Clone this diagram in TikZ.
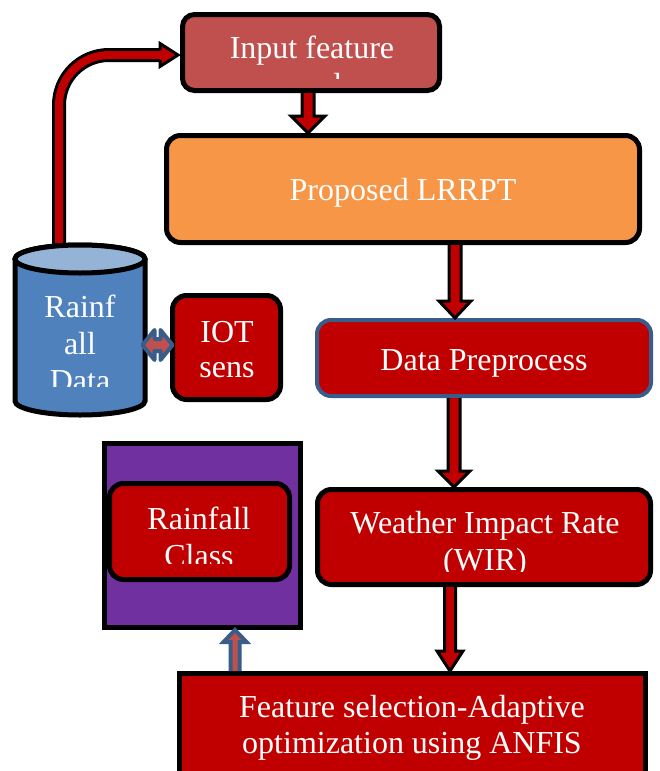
\documentclass[tikz,border=0pt]{standalone}
\usepackage{fontspec}
\setmainfont{Liberation Serif}
\usetikzlibrary{calc}

\definecolor{inred}{HTML}{C0504D}
\definecolor{orangebox}{HTML}{F79646}
\definecolor{darkred}{HTML}{C00000}
\definecolor{boxpurple}{HTML}{7030A0}
\definecolor{dbblue}{HTML}{4F81BD}
\definecolor{dbtop}{HTML}{95B3D7}
\definecolor{edgeblue}{HTML}{385D8A}

% multi-line label whose baseline is the first line
\newcommand\txtlines[1]{\begin{tabular}[t]{@{}c@{}}#1\end{tabular}}

% block arrows: start, tip, shaft half width, head half width, head length, style
\newcommand\blockdown[6]{%
  \draw[#6] let \p1=(#1), \p2=(#2) in
    (\x1-#3pt,\y1) -- (\x1-#3pt,\y2+#5pt) -- (\x1-#4pt,\y2+#5pt) -- (\x1,\y2)
    -- (\x1+#4pt,\y2+#5pt) -- (\x1+#3pt,\y2+#5pt) -- (\x1+#3pt,\y1);}
\newcommand\blockup[6]{%
  \draw[#6] let \p1=(#1), \p2=(#2) in
    (\x1-#3pt,\y1) -- (\x1-#3pt,\y2-#5pt) -- (\x1-#4pt,\y2-#5pt) -- (\x1,\y2)
    -- (\x1+#4pt,\y2-#5pt) -- (\x1+#3pt,\y2-#5pt) -- (\x1+#3pt,\y1);}

\begin{document}
\begin{tikzpicture}[x=1pt,y=-1pt,
  box/.style={draw=black, line width=5pt, rounded corners=14pt, inner sep=0pt},
  sqbox/.style={draw=black, line width=5pt, inner sep=0pt},
  txt/.style={text=white, inner sep=0pt, font=\fontsize{32}{37}\selectfont},
  blk/.style={fill=darkred, draw=black, line width=3pt, miter limit=10},
  blkblue/.style={fill=inred, draw=edgeblue, line width=4pt, miter limit=10}]

\fill[white] (0,0) rectangle (660,771);
\useasboundingbox (0,0) rectangle (660,771);

% boxes
\node[box, fill=inred, rounded corners=12pt, minimum width=257pt, minimum height=76pt] (in) at (311,52.5) {};
\node[box, fill=orangebox, minimum width=473pt, minimum height=107pt] (prop) at (403,189) {};
\node[box, draw=edgeblue, line width=4pt, fill=darkred, minimum width=334pt, minimum height=76pt] (dp) at (484,358) {};
\node[box, fill=darkred, minimum width=333pt, minimum height=95pt] (wir) at (484,537) {};
\node[sqbox, fill=darkred, minimum width=466pt, minimum height=126.5pt] (feat) at (412.5,736.75) {};
\node[sqbox, fill=boxpurple, minimum width=196pt, minimum height=184pt] (cls) at (202.5,535.5) {};
\node[box, fill=darkred, minimum width=180pt, minimum height=96pt] (rain) at (199.5,531.5) {};
\node[box, fill=darkred, minimum width=108pt, minimum height=104pt] (iot) at (226.5,347.5) {};

% database feeding the input features
\coordinate (dbtop) at (59,252);
\path (in.west) ++(-2,2.5) coordinate (feedTip);
\coordinate (headBack) at ($(feedTip)+(-18,0)$);
\draw[blk] let \p1=(feedTip) in (\x1-18pt,\y1+5pt) -- (\x1-18pt,\y1+11.5pt) -- (\x1,\y1)
  -- (\x1-18pt,\y1-11.5pt) -- (\x1-18pt,\y1-5pt);
\draw[line width=14pt, rounded corners=50pt] (dbtop) |- (headBack);
\draw[line width=8pt, darkred, rounded corners=50pt] (dbtop) |- ($(headBack)+(2,0)$);

% cylinder
\draw[line width=5pt, fill=dbblue] (15,259) -- (15,401)
  arc[start angle=180, end angle=360, x radius=65pt, y radius=14pt] -- (145,259)
  arc[start angle=0, end angle=180, x radius=65pt, y radius=14pt] -- cycle;
\draw[line width=5pt, fill=dbtop] (80,259) ellipse[x radius=65pt, y radius=14pt];
\coordinate (dbE) at (145,345);

% two-headed link between database and sensor
\path (iot.west) ++(-12.5,-2.5) coordinate (link);
\draw[blkblue, line join=round] let \p1=(link) in
  (\x1-15pt,\y1) -- (\x1-3pt,\y1+15pt) -- (\x1-3pt,\y1+6pt) -- (\x1+3pt,\y1+6pt)
  -- (\x1+3pt,\y1+15pt) -- (\x1+15pt,\y1) -- (\x1+3pt,\y1-15pt) -- (\x1+3pt,\y1-6pt)
  -- (\x1-3pt,\y1-6pt) -- (\x1-3pt,\y1-15pt) -- cycle;

% flow arrows
\coordinate (s1) at ([xshift=-3pt]in.south);
\blockdown{s1}{s1 |- prop.north}{6}{17}{17}{blk}
\coordinate (s2) at ([xshift=52pt]prop.south);
\blockdown{s2}{s2 |- dp.north}{6}{16}{17}{blk}
\coordinate (s3) at ([xshift=-30pt]dp.south);
\blockdown{s3}{s3 |- wir.north}{6}{16}{16}{blk}
\coordinate (s4) at ([xshift=-34pt]wir.south);
\blockdown{s4}{s4 |- feat.north}{5.5}{13}{20}{blk}
\coordinate (s5) at ([xshift=-177.5pt]feat.north);
\blockup{s5}{s5 |- cls.south}{4.5}{11.5}{12}{blkblue}

% labels
\begin{scope}
  \clip (185,17) rectangle (437,78);
  \node[txt, anchor=base] (t-in) at (312,58) {\txtlines{Input feature\\used}};
\end{scope}
\node[txt, anchor=base] (t-prop) at (403,200) {Proposed LRRPT};
\node[txt, anchor=base] (t-dp) at (484,370) {Data Preprocess};
\begin{scope}
  \clip (318,490) rectangle (650,571);
  \node[txt, anchor=base] (t-wir) at (485,533) {\txtlines{Weather Impact Rate\\(WIR)}};
\end{scope}
\begin{scope}
  \clip (110,485) rectangle (289,563);
  \node[txt, anchor=base] (t-rain) at (199,529) {\txtlines{Rainfall\\Class}};
\end{scope}
\begin{scope}
  \clip (18,275) rectangle (142,386);
  \node[txt, anchor=base] (t-db) at (80,317) {\txtlines{Rainf\\all\\Data}};
\end{scope}
\node[txt, anchor=base, font=\fontsize{32}{35}\selectfont] (t-iot) at (227,342) {\txtlines{IOT\\sens}};
\node[txt, anchor=base, font=\fontsize{32}{36}\selectfont] (t-feat) at (412,717) {\txtlines{Feature selection-Adaptive\\optimization using ANFIS}};
\end{tikzpicture}
\end{document}
